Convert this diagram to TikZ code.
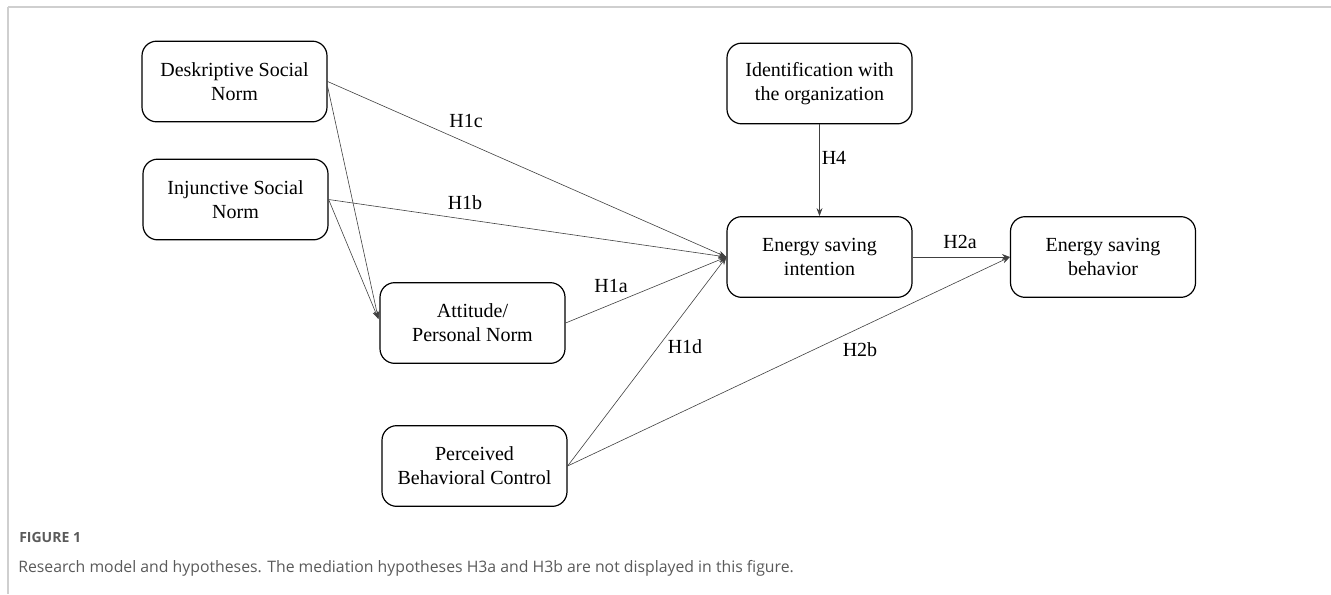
\documentclass[tikz,border=0pt]{standalone}
\usepackage{fontspec}
\setmainfont{Liberation Serif}
\newfontfamily\capfont{Open Sans}
\usetikzlibrary{arrows.meta,calc}
\definecolor{framegray}{HTML}{CFCFCF}
\definecolor{capgray}{HTML}{5A5A5A}
\definecolor{linegray}{HTML}{404040}
\tikzset{
  box/.style={draw=black, line width=0.9pt, rounded corners=11pt, minimum width=138.75pt, minimum height=60.5pt, align=center, inner sep=2pt, font=\fontsize{15}{18}\selectfont},
  conn/.style={draw=linegray, line width=0.45pt, -{Stealth[length=6pt,width=4.5pt]}},
  hlab/.style={font=\fontsize{15}{18}\selectfont, inner sep=0pt},
}
\begin{document}
\begin{tikzpicture}[x=0.75pt,y=-0.75pt]
\useasboundingbox (0,0) rectangle (1331,594);
% frame
\draw[framegray, line width=1.5pt] (8,7) -- (1331,7);
\draw[framegray, line width=1.5pt] (8,7) -- (8,594);
% boxes
\node[box] (D) at (234.5,81.5) {Deskriptive Social\\Norm};
\node[box] (I) at (235.5,199.5) {Injunctive Social\\Norm};
\node[box] (A) at (472.5,323) {Attitude/\\Personal Norm};
\node[box] (P) at (474.5,466) {Perceived\\Behavioral Control};
\node[box] (O) at (819.5,83.5) {Identification with\\the organization};
\node[box] (E) at (819.5,257) {Energy saving\\intention};
\node[box] (B) at (1103,257) {Energy saving\\behavior};
\coordinate (At) at ($(A.west)+(-1,-4)$);
% connectors
\draw[conn] (D.east) -- (E.west);
\draw[conn] ($(D.east)+(0,5)$) -- (At);
\draw[conn] (I.east) -- (At);
\draw[conn] (I.east) -- (E.west);
\draw[conn] (A.east) -- (E.west);
\draw[conn] (P.east) -- (E.west);
\draw[conn] (P.east) -- (B.west);
\draw[conn] (E.east) -- (B.west);
\draw[conn] (O.south) -- (E.north);
% labels
\node[hlab] (h1c) at (466,121) {H1c};
\node[hlab] (h1b) at (465,203) {H1b};
\node[hlab] (h1a) at (611,286) {H1a};
\node[hlab] (h1d) at (685,347) {H1d};
\node[hlab] (h2b) at (860,350) {H2b};
\node[hlab] (h2a) at (960,242) {H2a};
\node[hlab] (h4) at (834,158) {H4};
% caption
\node[anchor=west, inner sep=0pt, text=capgray, font=\capfont\fontsize{10.5}{12}\selectfont\bfseries] (fig) at (19,537) {FIGURE 1};
\node[anchor=west, inner sep=0pt, text=capgray, font=\capfont\fontsize{11.85}{14}\selectfont] (cap) at (18,568) {Research model and hypotheses. The mediation hypotheses H3a and H3b are not displayed in this figure.};
\end{tikzpicture}
\end{document}
